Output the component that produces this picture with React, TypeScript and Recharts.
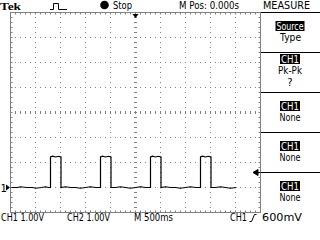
import React from "react";
import {
  LineChart,
  Line,
  XAxis,
  YAxis,
  CartesianGrid,
  ReferenceArea,
  ReferenceDot,
  ReferenceLine,
} from "recharts";

// CH1 trace: time (s) vs volts, 1 V/div, 500 ms/div
const sampleT = [
  -2.48, -2.36, -2.3, -2.18, -2.06, -2.0, -1.88, -1.8, -1.74, -1.7,
  -1.7, -1.66, -1.6, -1.54, -1.49,
  -1.49, -1.4, -1.3, -1.2, -1.1, -1.0, -0.9, -0.8, -0.74, -0.7,
  -0.7, -0.66, -0.6, -0.54, -0.49,
  -0.49, -0.4, -0.3, -0.2, -0.1, 0.0, 0.1, 0.2, 0.26, 0.3,
  0.3, 0.34, 0.4, 0.46, 0.51,
  0.51, 0.6, 0.7, 0.8, 0.9, 1.0, 1.1, 1.2, 1.26, 1.3,
  1.3, 1.34, 1.4, 1.46, 1.51,
  1.51, 1.6, 1.7, 1.8, 1.9, 2.02,
];
const sampleV = [
  0, 0, 0.03, 0, 0, -0.03, 0, 0.03, 0, 0,
  1.22, 1.25, 1.22, 1.25, 1.22,
  0, 0.03, 0, 0, -0.03, 0, 0.03, 0, 0, 0,
  1.22, 1.25, 1.22, 1.25, 1.22,
  0, 0, 0.03, 0, -0.03, 0, 0.03, 0, 0, 0,
  1.22, 1.25, 1.22, 1.25, 1.22,
  0, 0.03, 0, 0, -0.03, 0, 0.03, 0, 0, 0,
  1.22, 1.25, 1.22, 1.25, 1.22,
  0, 0, 0.03, 0, -0.03, 0,
];

// graticule: 10 x 8 divisions
const divT = [-2.5, -2, -1.5, -1, -0.5, 0, 0.5, 1, 1.5, 2, 2.5];
const divV = [-1, 0, 1, 2, 3, 4, 5, 6, 7];
// minor ticks, 5 per division
const minorT = Array.from({ length: 51 }, (_, i) => +(-2.5 + i * 0.1).toFixed(2));
const minorV = Array.from({ length: 41 }, (_, i) => +(-1 + i * 0.2).toFixed(2));

const groundLevel = 0;
const triggerLevel = 0.6;
const triggerTime = 0;

const data = sampleT.map((t, i) => ({ t, v: sampleV[i] }));

const GRAY = "#808080";
const FONT = "DejaVu Sans";

// tick lengths in data units (about 2-3 px)
const TICK_T = 0.04;
const TICK_V = 0.08;

function Fit({ x, y, w, anchor, fill, children }: any) {
  return (
    <text
      x={x}
      y={y}
      textLength={w}
      lengthAdjust="spacingAndGlyphs"
      textAnchor={anchor || "start"}
      fill={fill || "#000"}
    >
      {children}
    </text>
  );
}

function Inv({ y, w, label }: { y: number; w: number; label: string }) {
  return (
    <g>
      <rect x={290 - w / 2} y={y} width={w} height={10} fill="#000" />
      <Fit x={290} y={y + 9} w={w - 2} anchor="middle" fill="#fff">
        {label}
      </Fit>
    </g>
  );
}

function tickSeg(key: string, a: [number, number], b: [number, number]) {
  return (
    <ReferenceLine
      key={key}
      xAxisId="t"
      yAxisId="v"
      segment={[{ x: a[0], y: a[1] }, { x: b[0], y: b[1] }]}
      stroke={GRAY}
      strokeWidth={1}
    />
  );
}

export default function App() {
  const ticks: any[] = [];
  minorT.forEach((t) => {
    ticks.push(tickSeg(`top${t}`, [t, 7], [t, 7 - TICK_V]));
    ticks.push(tickSeg(`bot${t}`, [t, -1], [t, -1 + TICK_V]));
    ticks.push(tickSeg(`mid${t}`, [t, 3 - 0.06], [t, 3 + 0.06]));
  });
  minorV.forEach((v) => {
    ticks.push(tickSeg(`l${v}`, [-2.5, v], [-2.5 + TICK_T, v]));
    ticks.push(tickSeg(`r${v}`, [2.5, v], [2.5 - TICK_T, v]));
    ticks.push(tickSeg(`c${v}`, [-0.03, v], [0.03, v]));
  });

  return (
    <div style={{ position: "absolute", left: 0, top: 0, width: 320, height: 240, background: "#fff" }}>
      <LineChart
        width={320}
        height={240}
        data={data}
        margin={{ top: 12.5, right: 59.5, bottom: 27.5, left: 10.5 }}
      >
        <XAxis xAxisId="t" dataKey="t" type="number" domain={[-2.5, 2.5]} ticks={divT} hide />
        <YAxis yAxisId="v" type="number" domain={[-1, 7]} ticks={divV} hide />

        {/* dotted division lines */}
        <CartesianGrid xAxisId="t" yAxisId="v" stroke={GRAY} strokeDasharray="1 4" strokeDashoffset={0.5} />
        <ReferenceArea
          xAxisId="t"
          yAxisId="v"
          x1={-2.5}
          x2={2.5}
          y1={-1}
          y2={7}
          fill="none"
          fillOpacity={0}
          stroke={GRAY}
          strokeOpacity={1}
        />
        {ticks}

        <Line
          xAxisId="t"
          yAxisId="v"
          dataKey="v"
          type="linear"
          stroke="#000"
          strokeWidth={1.2}
          dot={false}
          isAnimationActive={false}
        />

        {/* ground marker "1 ->" */}
        <ReferenceDot
          xAxisId="t"
          yAxisId="v"
          x={-2.5}
          y={groundLevel}
          shape={(p: any) => (
            <g>
              <text x={p.cx - 10} y={p.cy + 4} fontFamily={FONT} fontSize={10} fill="#000">
                1
              </text>
              <path d={`M${p.cx - 4.5},${p.cy - 3}L${p.cx - 0.5},${p.cy}L${p.cx - 4.5},${p.cy + 3}Z`} fill="#000" />
            </g>
          )}
        />
        {/* trigger level arrow */}
        <ReferenceDot
          xAxisId="t"
          yAxisId="v"
          x={2.5}
          y={triggerLevel}
          shape={(p: any) => (
            <path
              d={`M${p.cx - 7.5},${p.cy}L${p.cx - 2.5},${p.cy - 3}L${p.cx - 2.5},${p.cy + 3}Z M${p.cx - 3},${p.cy}H${p.cx}`}
              fill="#000"
              stroke="#000"
              strokeWidth={1}
            />
          )}
        />
        {/* trigger position marker */}
        <ReferenceDot
          xAxisId="t"
          yAxisId="v"
          x={triggerTime}
          y={7}
          shape={(p: any) => (
            <path
              d={`M${p.cx - 3},${p.cy + 1.5}L${p.cx + 3},${p.cy + 1.5}L${p.cx},${p.cy + 5.5}Z`}
              fill="#000"
            />
          )}
        />
      </LineChart>

      <svg
        width={320}
        height={240}
        style={{ position: "absolute", left: 0, top: 0, pointerEvents: "none" }}
        fontFamily={FONT}
        fontSize={10}
      >
        {/* top bar */}
        <text
          x={0}
          y={9.5}
          fontFamily="Liberation Serif"
          fontWeight="bold"
          fontSize={11}
          textLength={21}
          lengthAdjust="spacingAndGlyphs"
        >
          Tek
        </text>
        <path d="M50,9.5H53.5V3.5H58.5V9.5H67" stroke="#000" fill="none" />
        <circle cx={104.5} cy={5} r={4.3} fill="#000" />
        <Fit x={113} y={9} w={19}>Stop</Fit>
        <Fit x={179} y={9} w={60}>M Pos: 0.000s</Fit>
        <Fit x={263} y={9} w={47}>MEASURE</Fit>

        {/* menu panel */}
        <path d="M261,12.5H320M261,52.5H320M261,92.5H320M261,132.5H320M261,172.5H320" stroke="#000" />
        <Inv y={21} w={29} label="Source" />
        <Fit x={290.5} y={41} w={21} anchor="middle">Type</Fit>
        <Inv y={54} w={20} label="CH1" />
        <Fit x={290} y={74} w={24} anchor="middle">Pk-Pk</Fit>
        <text x={290} y={86} textAnchor="middle">?</text>
        <Inv y={101} w={20} label="CH1" />
        <Fit x={290} y={121} w={21} anchor="middle">None</Fit>
        <Inv y={141} w={20} label="CH1" />
        <Fit x={290} y={161} w={21} anchor="middle">None</Fit>
        <Inv y={181} w={20} label="CH1" />
        <Fit x={290} y={201} w={21} anchor="middle">None</Fit>

        {/* bottom status */}
        <Fit x={1} y={221} w={43}>CH1 1.00V</Fit>
        <Fit x={67} y={221} w={43}>CH2 1.00V</Fit>
        <Fit x={134} y={221} w={39}>M 500ms</Fit>
        <Fit x={230} y={221} w={17}>CH1</Fit>
        <path d="M249.5,221.5H251.5L254.5,214.5H256.5" stroke="#000" fill="none" />
        <Fit x={262} y={221} w={40}>600mV</Fit>
      </svg>
    </div>
  );
}
